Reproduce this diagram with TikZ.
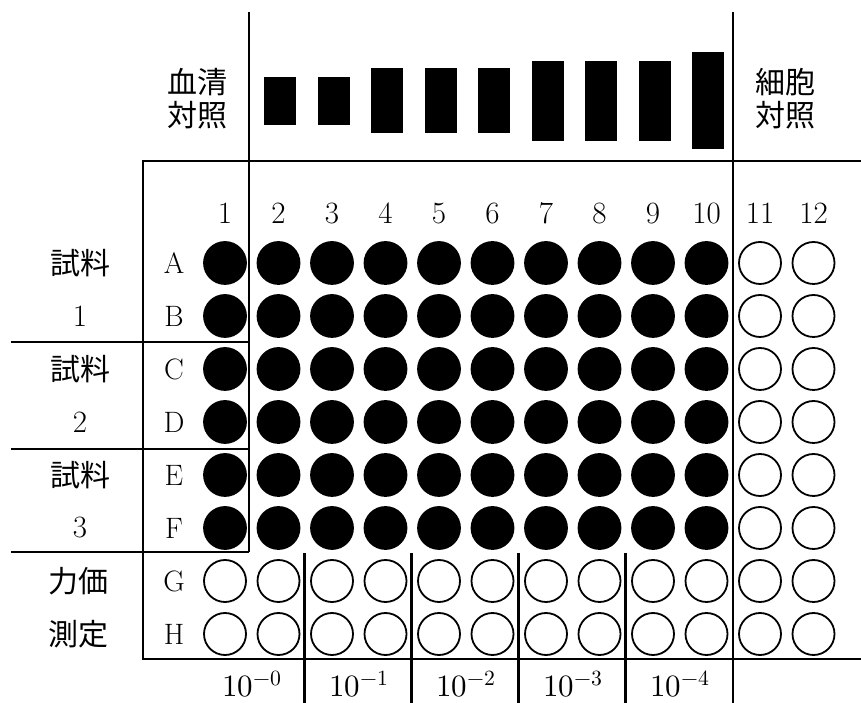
\documentclass[tikz,border=0pt]{standalone}
\usepackage{fontspec}
\usepackage{unicode-math}
\newfontfamily\jpfont{Noto Sans CJK JP}
\usetikzlibrary{positioning}

\begin{document}
\begin{tikzpicture}[x=1pt, y=1pt,
    well/.style={circle, draw=black, line width=1.8pt, minimum size=42pt, inner sep=0pt},
    fullwell/.style={well, fill=black},
    emptywell/.style={well, fill=white},
    bar/.style={fill=black, inner sep=0pt, minimum width=32pt},
    txt/.style={font=\fontsize{29.5}{34}\selectfont, inner sep=0pt},
    numtxt/.style={font=\fontsize{31}{34}\selectfont, inner sep=0pt},
    jptxt/.style={font=\fontsize{30}{35}\selectfont\jpfont, align=center, inner sep=0pt},
    rule/.style={line width=2.8pt},
    split/.style={line width=2.4pt}
]
    \useasboundingbox (0,0) rectangle (861,703);

    % Wells of the plate
    \foreach \r [count=\i] in {A,B,C,D,E,F,G,H} {
        \node[txt] (row-\r) at (174, {440-53*(\i-1)}) {\r};
        \foreach \c in {1,...,12} {
            \pgfmathtruncatemacro\isfull{and(\i<7,\c<11)}
            \ifnum\isfull=1 \def\wstyle{fullwell}\else\def\wstyle{emptywell}\fi
            \node[\wstyle] (w-\r\c) at ({225+53.5*(\c-1)}, {440-53*(\i-1)}) {};
        }
    }

    % Column numbers
    \foreach \c in {1,...,12}
        \node[numtxt, anchor=base] (col-\c) at ({225+53.5*(\c-1)}, 479) {\c};

    % Serum bars
    \foreach \c/\h in {2/48,3/48,4/65,5/65,6/65,7/80,8/80,9/80,10/97}
        \node[bar, minimum height=\h pt] (bar-\c) at ({226.5+53.5*(\c-1)}, 602) {};

    % Top labels
    \node[jptxt] (serum) at (197, 604) {血清\\[-2pt]対照};
    \node[jptxt] (cell) at (785, 604) {細胞\\[-2pt]対照};

    % Sample labels
    \node[jptxt] (s1) at (80, 440) {試料};
    \node[numtxt] (n1) at (80, 387) {1};
    \node[jptxt] (s2) at (80, 334) {試料};
    \node[numtxt] (n2) at (80, 281) {2};
    \node[jptxt] (s3) at (80, 228) {試料};
    \node[numtxt] (n3) at (80, 175) {3};
    \node[jptxt] (titer) at (78, 122) {力価};
    \node[jptxt] (assay) at (78, 69) {測定};

    % Dilutions
    \foreach \k in {0,...,4}
        \node[numtxt, anchor=base] (dil-\k) at ({252+107*\k}, 6) {$10^{-\k}$};

    % Frame lines
    \draw[rule] (249,691) -- (249,151);
    \draw[rule] (733,691) -- (733,0);
    \draw[rule] (861,542) -- (143,542) -- (143,44) -- (861,44);
    \foreach \sy in {361,254,151}
        \draw[rule] (11,\sy) -- (249,\sy);
    \foreach \sx in {304.5,411.5,518.5,625.5}
        \draw[split] (\sx,150) -- (\sx,0);
\end{tikzpicture}
\end{document}
